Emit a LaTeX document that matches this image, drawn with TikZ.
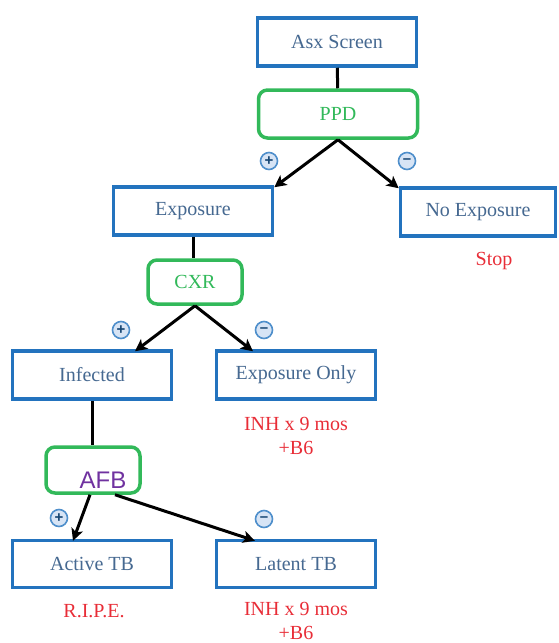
\documentclass[tikz,border=0pt]{standalone}
\usepackage{fontspec}
\setmainfont{Liberation Serif}
\newfontfamily\afbfont{Liberation Sans}
\usetikzlibrary{arrows.meta,positioning}
\definecolor{boxBlue}{RGB}{35,115,190}
\definecolor{txtBlue}{RGB}{70,105,145}
\definecolor{signFill}{RGB}{215,228,245}
\definecolor{testGreen}{RGB}{50,185,90}
\definecolor{rxRed}{RGB}{232,45,55}
\definecolor{afbPurple}{RGB}{112,50,160}
\tikzset{
  res/.style={draw=boxBlue,line width=3.5pt,fill=white,inner sep=0pt,
    minimum width=159pt,minimum height=48pt,text=txtBlue,
    font=\fontsize{20}{23}\selectfont},
  test/.style={draw=testGreen,line width=3.5pt,rounded corners=9pt,fill=white,
    inner sep=0pt,text=testGreen,font=\fontsize{20}{23}\selectfont},
  ar/.style={-{Stealth[length=12pt,width=12pt,inset=3pt]},line width=3pt},
  ln/.style={line width=3pt},
  sgn/.style={circle,draw=boxBlue!80,fill=signFill,text=boxBlue!60!black,
    line width=1.6pt,inner sep=0pt,minimum size=17pt,
    font=\afbfont\bfseries\fontsize{15}{15}\selectfont},
  rx/.style={text=rxRed,align=center,inner sep=0pt,
    font=\fontsize{20}{24}\selectfont},
}

\begin{document}
\begin{tikzpicture}[x=1pt,y=-1pt]
  \useasboundingbox (0,0) rectangle (559,643);

  % screening
  \node[res] (asx) at (337,42) {Asx Screen};
  \node[test,minimum width=159pt,minimum height=48pt] (ppd) at (338,114) {PPD};
  \node[res] (exp) at (193,211) {Exposure};
  \node[res,minimum width=155pt] (noexp) at (478,212) {No Exposure};
  \node[rx] (stop) at (494,261) {Stop};

  % chest x-ray
  \node[test,minimum width=94pt,minimum height=44pt] (cxr) at (195,282) {CXR};
  \node[res] (inf) at (92,375) {Infected};
  \node[res] (expo) at (296,375) {Exposure Only};
  \node[rx] (rxExpo) at (296,436) {INH x 9 mos\\+B6};

  % sputum
  \node[test,minimum width=94pt,minimum height=46pt,text=afbPurple,
    font=\afbfont\fontsize{24}{26}\selectfont,text height=37pt,text depth=0pt]
    (afb) at (93,470) {\hspace*{20pt}AFB};
  \node[res,minimum height=47pt] (act) at (92,564) {Active TB};
  \node[res,minimum height=47pt] (lat) at (296,564) {Latent TB};
  \node[rx] (ripe) at (94,611) {R.I.P.E.};
  \node[rx] (rxLat) at (296,621) {INH x 9 mos\\+B6};

  % connectors
  \draw[ln] (asx) -- (ppd);
  \draw[ar] (ppd.south) -- ([yshift=-2pt]exp.north east);
  \draw[ar] (ppd.south) -- ([yshift=-2pt]noexp.north west);
  \draw[ln] (exp.south) -- (exp.south |- cxr.north);
  \draw[ar] (cxr.south) -- ([xshift=43pt,yshift=-2pt]inf.north);
  \draw[ar] (cxr.south) -- ([xshift=-43pt,yshift=-2pt]expo.north);
  \draw[ln] (inf.south) -- (inf.south |- afb.north);
  \draw[ar] ([xshift=-3pt]afb.south) -- ([xshift=-19pt,yshift=-2pt]act.north);
  \draw[ar] ([xshift=22pt]afb.south) -- ([xshift=-41pt,yshift=-2pt]lat.north);

  % test results
  \node[sgn] (p1) at (269,161) {+};
  \node[sgn] (m1) at (407,161) {\textendash};
  \node[sgn] (p2) at (121,330) {+};
  \node[sgn] (m2) at (264,330) {\textendash};
  \node[sgn] (p3) at (59,518) {+};
  \node[sgn] (m3) at (264,519) {\textendash};
\end{tikzpicture}
\end{document}
